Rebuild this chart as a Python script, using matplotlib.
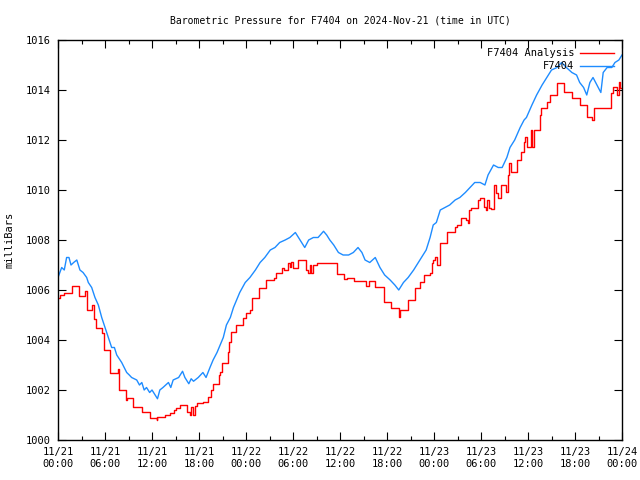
import numpy as np
import matplotlib
matplotlib.use('Agg')
import matplotlib.pyplot as plt

# hours since 2024-11-21 00:00 UTC
blue_h = [0.0, 0.47, 0.8, 1.1, 1.4, 1.66, 2.0, 2.4, 2.8, 3.2, 3.66, 3.87, 4.3, 4.72, 5.15,
          5.58, 6.0, 6.42, 6.85, 7.2, 7.5, 8.13, 8.77, 9.1, 9.4, 10.05, 10.4, 10.7, 11.0,
          11.3, 11.7, 12.0, 12.4, 12.7, 13.0, 13.4, 14.1, 14.4, 14.7, 15.4, 15.9, 16.2,
          16.7, 17.0, 17.3, 17.9, 18.5, 18.9, 19.4, 19.8, 20.3, 20.7, 21.1, 21.5, 22.0,
          22.4, 22.8, 23.2, 23.9, 24.5, 25.2, 25.8, 26.4, 27.1, 27.7, 28.3, 29.0, 29.6,
          30.3, 30.7, 31.1, 31.5, 32.0, 32.6, 33.2, 33.9, 34.3, 34.7, 35.2, 35.8, 36.4,
          37.1, 37.7, 38.3, 38.8, 39.2, 39.8, 40.5, 41.1, 41.7, 42.4, 43.0, 43.5, 44.1,
          44.7, 45.4, 46.0, 46.6, 47.0, 47.5, 47.9, 48.3, 48.8, 49.4, 50.0, 50.7, 51.3,
          52.0, 52.6, 53.2, 53.9, 54.5, 54.9, 55.6, 56.2, 56.7, 57.3, 57.7, 58.3, 59.0,
          59.5, 59.8, 60.5, 61.1, 61.8, 62.4, 63.0, 63.7, 64.3, 64.9, 65.6, 66.2, 66.6,
          67.1, 67.5, 67.9, 68.3, 68.8, 69.3, 69.6, 70.1, 70.7, 71.1, 71.6, 72.0]
blue_p = [1006.5, 1006.9, 1006.8, 1007.3, 1007.3, 1007.0, 1007.1, 1007.2, 1006.8, 1006.7,
          1006.5, 1006.3, 1006.1, 1005.7, 1005.4, 1004.9, 1004.5, 1004.1, 1003.7, 1003.7,
          1003.4, 1003.1, 1002.7, 1002.6, 1002.5, 1002.4, 1002.2, 1002.3, 1002.0, 1002.1,
          1001.9, 1002.0, 1001.8, 1001.65, 1002.0, 1002.1, 1002.3, 1002.1, 1002.4, 1002.5,
          1002.75, 1002.5, 1002.25, 1002.45, 1002.35, 1002.5, 1002.7, 1002.5, 1002.9,
          1003.2, 1003.5, 1003.8, 1004.1, 1004.6, 1004.9, 1005.3, 1005.6, 1005.9, 1006.3,
          1006.5, 1006.8, 1007.1, 1007.3, 1007.6, 1007.7, 1007.9, 1008.0, 1008.1, 1008.3,
          1008.1, 1007.9, 1007.7, 1008.0, 1008.1, 1008.1, 1008.35, 1008.2, 1008.0, 1007.8,
          1007.5, 1007.4, 1007.4, 1007.5, 1007.7, 1007.5, 1007.2, 1007.1, 1007.3, 1006.9,
          1006.6, 1006.4, 1006.2, 1006.0, 1006.3, 1006.5, 1006.8, 1007.1, 1007.4, 1007.6,
          1008.1, 1008.6, 1008.7, 1009.2, 1009.3, 1009.4, 1009.6, 1009.7, 1009.9, 1010.1,
          1010.3, 1010.3, 1010.2, 1010.6, 1011.0, 1010.9, 1010.9, 1011.3, 1011.7, 1012.0,
          1012.5, 1012.8, 1012.9, 1013.4, 1013.8, 1014.2, 1014.5, 1014.8, 1014.9, 1015.1,
          1014.9, 1014.7, 1014.6, 1014.3, 1014.1, 1013.8, 1014.3, 1014.5, 1014.2, 1013.9,
          1014.7, 1014.9, 1014.9, 1015.1, 1015.2, 1015.4]

# analysis: step changes (hour, value)
red_h = [0.0, 0.26, 0.77, 1.75, 2.72, 3.45, 3.64, 4.30, 4.63, 4.79, 5.66, 5.81, 6.64, 7.66,
         7.79, 8.68, 8.87, 9.61, 10.69, 11.74, 12.6, 12.7, 13.66, 14.3, 14.8, 15.06, 15.57,
         16.47, 16.8, 17.04, 17.23, 17.43, 17.75, 18.51, 19.15, 19.53, 19.79, 20.55, 20.68,
         20.94, 21.64, 21.83, 22.09, 22.69, 23.66, 23.96, 24.5, 24.73, 25.66, 26.6, 27.61,
         27.79, 28.56, 28.85, 29.4, 29.62, 29.75, 29.94, 30.6, 31.6, 31.95, 32.17, 32.32,
         32.55, 33.0, 33.66, 35.62, 36.51, 36.83, 37.85, 39.28, 39.64, 40.53, 41.62, 42.47,
         43.53, 43.62, 44.68, 45.54, 46.18, 46.69, 47.49, 47.7, 47.91, 48.13, 48.32, 48.77,
         49.6, 50.62, 50.9, 51.41, 52.09, 52.34, 52.51, 52.72, 53.56, 53.87, 54.32, 54.58,
         54.77, 54.96, 55.28, 55.66, 55.92, 56.17, 56.56, 57.2, 57.4, 57.62, 57.83, 58.64,
         59.05, 59.5, 59.62, 59.81, 60.32, 60.57, 60.77, 61.5, 61.66, 62.47, 62.87, 63.64,
         64.56, 65.66, 66.7, 67.53, 68.11, 68.47, 70.6, 70.85, 71.36, 71.62, 71.8, 72.0]
red_p = [1005.7, 1005.8, 1005.9, 1006.15, 1005.76, 1005.95, 1005.2, 1005.4, 1004.85, 1004.5,
         1004.3, 1003.6, 1002.7, 1002.84, 1002.0, 1001.6, 1001.67, 1001.33, 1001.13, 1000.87,
         1000.8, 1000.93, 1001.0, 1001.07, 1001.2, 1001.27, 1001.4, 1001.13, 1001.0, 1001.33,
         1001.0, 1001.36, 1001.47, 1001.53, 1001.73, 1002.0, 1002.24, 1002.6, 1002.73,
         1003.07, 1003.53, 1003.93, 1004.33, 1004.6, 1004.87, 1005.07, 1005.2, 1005.67,
         1006.07, 1006.4, 1006.47, 1006.67, 1006.87, 1006.8, 1007.07, 1006.93, 1007.13,
         1006.87, 1007.2, 1006.8, 1006.7, 1007.0, 1006.7, 1007.0, 1007.07, 1007.1, 1006.64,
         1006.43, 1006.5, 1006.37, 1006.17, 1006.37, 1006.13, 1005.53, 1005.27, 1004.93,
         1005.2, 1005.6, 1006.07, 1006.33, 1006.6, 1006.67, 1007.07, 1007.2, 1007.33, 1007.0,
         1007.87, 1008.33, 1008.53, 1008.6, 1008.87, 1008.8, 1008.67, 1009.2, 1009.27, 1009.6,
         1009.67, 1009.33, 1009.2, 1009.6, 1009.27, 1009.23, 1010.2, 1009.9, 1009.67, 1010.2,
         1009.93, 1010.6, 1011.07, 1010.73, 1011.2, 1011.53, 1011.93, 1012.13, 1011.73,
         1012.4, 1011.73, 1012.4, 1013.0, 1013.27, 1013.53, 1013.8, 1014.3, 1013.93, 1013.67,
         1013.4, 1012.93, 1012.8, 1013.27, 1013.87, 1014.13, 1013.8, 1014.33, 1014.07, 1014.07]

xtick_labels = ['11/21\n00:00', '11/21\n06:00', '11/21\n12:00', '11/21\n18:00',
                '11/22\n00:00', '11/22\n06:00', '11/22\n12:00', '11/22\n18:00',
                '11/23\n00:00', '11/23\n06:00', '11/23\n12:00', '11/23\n18:00',
                '11/24\n00:00']

plt.rcParams['font.family'] = 'DejaVu Sans Mono'
plt.rcParams['font.size'] = 7.5

fig = plt.figure(figsize=(6.4, 4.8), dpi=100)
ax = fig.add_axes([58 / 640, 40 / 480, 564 / 640, 400 / 480])

ax.plot(red_h, red_p, color='#ff0000', lw=1.0, drawstyle='steps-post', label='F7404 Analysis')
ax.plot(blue_h, blue_p, color='#1e8cff', lw=1.0, label='F7404')

ax.set_xlim(0, 72)
ax.set_ylim(1000, 1016)
ax.set_xticks(np.arange(0, 73, 6))
ax.set_xticklabels(xtick_labels)
ax.set_xticks(np.arange(0, 73, 3), minor=True)
ax.set_yticks(np.arange(1000, 1017, 2))
ax.tick_params(which='both', direction='in', top=True, right=True, pad=5)
ax.tick_params(which='major', length=6, width=0.8)
ax.tick_params(which='minor', length=3, width=0.8)
for s in ax.spines.values():
    s.set_linewidth(1.0)

ax.set_ylabel('milliBars', labelpad=8)
ax.set_title('Barometric Pressure for F7404 on 2024-Nov-21 (time in UTC)', fontsize=7, pad=12)
ax.legend(loc='upper right', frameon=False, markerfirst=False, handlelength=3.2,
          borderaxespad=0.4, labelspacing=0.3, handletextpad=0.6)

fig.savefig('out.png', dpi=100)
